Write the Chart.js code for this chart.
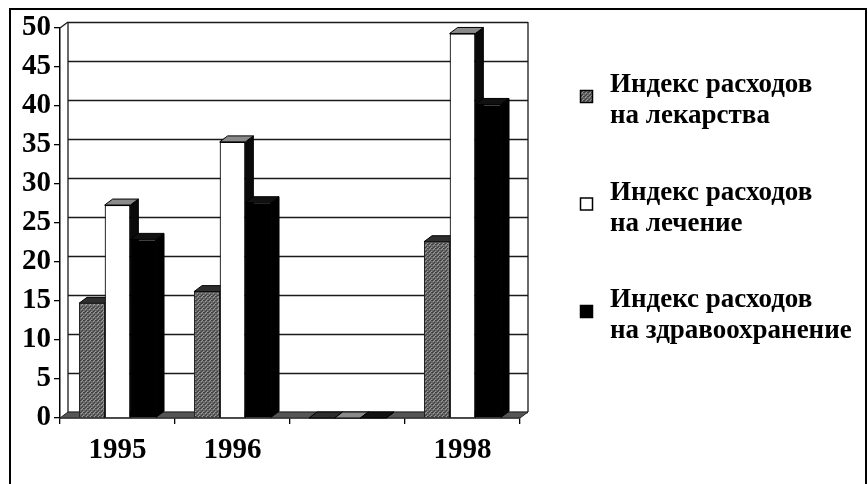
<!DOCTYPE html>
<html><head><meta charset="utf-8">
<script src="https://cdn.jsdelivr.net/npm/chart.js@4.4.0/dist/chart.umd.min.js"></script>
<style>html,body{margin:0;padding:0;background:#fff;}#wrap{width:868px;height:484px;position:relative;}</style>
</head><body><div id="wrap"><canvas id="c" width="868" height="484"></canvas></div>
<script>
// ---- data ----
const categories = ['1995', '1996', '', '1998'];
const seriesNames = [
  ['Индекс расходов', 'на лекарства'],
  ['Индекс расходов', 'на лечение'],
  ['Индекс расходов', 'на здравоохранение']
];
const drugs      = [14.7, 16.2, 0, 22.6];
const treatment  = [27.3, 35.4, 0, 49.3];
const healthcare = [22.9, 27.6, 0, 40.2];
const yTicks = [0, 5, 10, 15, 20, 25, 30, 35, 40, 45, 50];

// ---- styles ----
function makeGrayPattern() {
  const c = document.createElement('canvas'); c.width = 4; c.height = 4;
  const g = c.getContext('2d');
  g.fillStyle = '#686868'; g.fillRect(0, 0, 4, 4);
  g.fillStyle = '#3e3e3e'; g.fillRect(0, 0, 1, 1); g.fillRect(2, 2, 1, 1); g.fillRect(3, 0, 1, 1); g.fillRect(1, 3, 1, 1);
  g.fillStyle = '#9a9a9a'; g.fillRect(1, 1, 1, 1); g.fillRect(3, 3, 1, 1); g.fillRect(2, 0, 1, 1);
  return document.createElement('canvas').getContext('2d').createPattern(c, 'repeat');
}
const grayPat = makeGrayPattern();
const fronts = [grayPat, '#ffffff', '#000000'];
const tops   = ['#2e2e2e', '#8a8a8a', '#111111'];
const sides  = ['#2a2a2a', '#0a0a0a', '#000000'];
const DX = 8, DY = -6;
const FONT = '"Liberation Serif", "Times New Roman", serif';

function poly(ctx, pts, fill, stroke) {
  ctx.beginPath(); ctx.moveTo(pts[0][0], pts[0][1]);
  for (let i = 1; i < pts.length; i++) ctx.lineTo(pts[i][0], pts[i][1]);
  ctx.closePath();
  if (fill) { ctx.fillStyle = fill; ctx.fill(); }
  if (stroke) { ctx.strokeStyle = stroke; ctx.lineWidth = 1; ctx.stroke(); }
}
function line(ctx, x1, y1, x2, y2) { ctx.beginPath(); ctx.moveTo(x1, y1); ctx.lineTo(x2, y2); ctx.stroke(); }

const threeD = {
  id: 'threeD',
  beforeDatasetsDraw(chart) {
    const { ctx, chartArea: a, scales: { y } } = chart;
    ctx.save();
    ctx.strokeStyle = '#1a1a1a'; ctx.lineWidth = 1.6;
    y.ticks.forEach(t => {
      const py = Math.round(y.getPixelForValue(t.value) + DY) + 0.5;
      line(ctx, a.left + DX, py, a.right + DX, py);
    });
    ctx.lineWidth = 1.3;
    line(ctx, a.left + DX, a.top + DY, a.left + DX, a.bottom + DY);
    line(ctx, a.right + DX, a.top + DY, a.right + DX, a.bottom + DY);
    line(ctx, a.left, a.top, a.left + DX, a.top + DY);
    poly(ctx, [[a.left, a.bottom], [a.right, a.bottom], [a.right + DX, a.bottom + DY], [a.left + DX, a.bottom + DY]], '#555', '#222');
    const n = chart.data.labels.length;
    for (let i = 0; i < n; i++) {
      chart.data.datasets.forEach((ds, d) => {
        const el = chart.getDatasetMeta(d).data[i];
        const p = el.getProps(['x', 'y', 'base', 'width'], true);
        const l = p.x - p.width / 2, r = p.x + p.width / 2, t = p.y, b = p.base;
        poly(ctx, [[r, t], [r + DX, t + DY], [r + DX, b + DY], [r, b]], sides[d], '#000');
        poly(ctx, [[l, t], [l + DX, t + DY], [r + DX, t + DY], [r, t]], tops[d], '#000');
      });
    }
    ctx.restore();
  },
  afterDraw(chart) {
    const { ctx } = chart;
    ctx.save();
    ctx.strokeStyle = '#000'; ctx.lineWidth = 2;
    ctx.strokeRect(10, 9, 856, 500);
    ctx.font = 'bold 27px ' + FONT;
    ctx.textBaseline = 'alphabetic'; ctx.textAlign = 'left';
    seriesNames.forEach((lines, k) => {
      const base = 92 + k * 107.5;
      const by = base - 2;
      ctx.fillStyle = fronts[k];
      ctx.fillRect(580, by, 13, 13);
      ctx.strokeStyle = '#000'; ctx.lineWidth = 1.5;
      ctx.strokeRect(580.5, by + 0.5, 12, 12);
      ctx.fillStyle = '#000';
      lines.forEach((s, j) => ctx.fillText(s, 610, base + j * 31));
    });
    ctx.restore();
  }
};

new Chart(document.getElementById('c'), {
  type: 'bar',
  data: {
    labels: categories,
    datasets: [
      { label: seriesNames[0].join(' '), data: drugs,      backgroundColor: fronts[0], borderColor: '#222', borderWidth: 1 },
      { label: seriesNames[1].join(' '), data: treatment,  backgroundColor: fronts[1], borderColor: '#000', borderWidth: 1.2 },
      { label: seriesNames[2].join(' '), data: healthcare, backgroundColor: fronts[2], borderColor: '#000', borderWidth: 1 }
    ]
  },
  options: {
    responsive: false,
    animation: false,
    devicePixelRatio: 1,
    layout: { padding: { top: 28, right: 348, bottom: 0, left: 0 } },
    categoryPercentage: 0.67,
    barPercentage: 1.0,
    plugins: { legend: { display: false }, tooltip: { enabled: false } },
    scales: {
      x: {
        grid: { offset: true, drawOnChartArea: false, drawTicks: true, tickLength: 6, color: '#000', lineWidth: 1.3 },
        border: { display: true, color: '#000', width: 1.5 },
        ticks: { color: '#000', font: { family: FONT, size: 29, weight: 'bold' }, padding: 9, maxRotation: 0, autoSkip: false },
        afterFit(s) { s.height = 66; }
      },
      y: {
        min: 0, max: 50,
        afterBuildTicks(s) { s.ticks = yTicks.map(v => ({ value: v })); },
        grid: { drawOnChartArea: false, drawTicks: true, tickLength: 6, color: '#000', lineWidth: 1.3 },
        border: { display: true, color: '#000', width: 1.5 },
        ticks: { color: '#000', font: { family: FONT, size: 29, weight: 'bold' }, padding: 3 },
        afterFit(s) { s.width = 60; }
      }
    }
  },
  plugins: [threeD]
});
</script></body></html>
